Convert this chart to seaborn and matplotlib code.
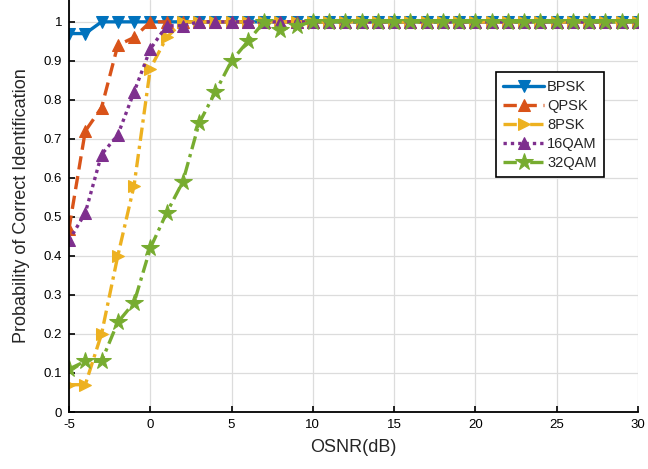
import numpy as np
import pandas as pd
import matplotlib
matplotlib.use("Agg")
import matplotlib.pyplot as plt
import seaborn as sns

# OSNR sweep (dB)
osnr = list(range(-5, 31))

# probability of correct identification
bpsk = [0.97, 0.97] + [1.0] * 34
qpsk = [0.47, 0.72, 0.78, 0.94, 0.96] + [1.0] * 31
psk8 = [0.07, 0.07, 0.20, 0.40, 0.58, 0.88, 0.96] + [1.0] * 29
qam16 = [0.44, 0.51, 0.66, 0.71, 0.82, 0.93, 0.99, 0.99] + [1.0] * 28
qam32 = [0.11, 0.13, 0.13, 0.23, 0.28, 0.42, 0.51, 0.59, 0.74, 0.82,
         0.90, 0.95, 1.0, 0.98, 0.99] + [1.0] * 21

labels = ["BPSK", "QPSK", "8PSK", "16QAM", "32QAM"]
values = [bpsk, qpsk, psk8, qam16, qam32]

# MATLAB default colour order
colors = ["#0072BD", "#D95319", "#EDB120", "#7E2F8E", "#77AC30"]
styles = ["-", (0, (4, 2)), (0, (4, 1.5, 1, 1.5)), (0, (1, 1.2)), (0, (4, 1.5, 1, 1.5))]
markers = ["v", "^", ">", "^", "*"]
msizes = [8, 9, 9, 9, 13]

sns.set_style("whitegrid")
plt.rcParams["font.family"] = ["Liberation Sans", "DejaVu Sans"]
plt.rcParams["axes.unicode_minus"] = False

fig = plt.figure(figsize=(6.48, 4.69), dpi=100)
ax = fig.add_axes([0.1065, 0.1215, 0.878, 0.8785])

for lab, val, c, ls, m, ms in zip(labels, values, colors, styles, markers, msizes):
    df = pd.DataFrame({"osnr": osnr, "p": val})
    sns.lineplot(data=df, x="osnr", y="p", ax=ax, color=c, linestyle=ls,
                 marker=m, markersize=ms, markeredgecolor=c, linewidth=2.4,
                 label=lab)

ax.set_xlim(-5, 30)
ax.set_ylim(0, 1.056)
ax.set_xticks(np.arange(-5, 31, 5))
ax.set_yticks(np.round(np.arange(0, 1.01, 0.1), 1))
ax.set_yticklabels(["0", "0.1", "0.2", "0.3", "0.4", "0.5", "0.6", "0.7", "0.8", "0.9", "1"])
ax.grid(True, color="#dcdcdc", linewidth=0.9)
ax.set_axisbelow(True)

for side in ["top", "right"]:
    ax.spines[side].set_visible(False)
for side in ["left", "bottom"]:
    ax.spines[side].set_color("black")
    ax.spines[side].set_linewidth(1.3)

ax.tick_params(direction="in", length=4, width=1.2, colors="black",
               labelsize=9.5, left=True, bottom=True, pad=5)

ax.set_xlabel("OSNR(dB)", fontsize=13, labelpad=6)
ax.set_ylabel("Probability of Correct Identification", fontsize=13, labelpad=10)

leg = ax.legend(loc="upper left", bbox_to_anchor=(0.738, 0.842), fontsize=10.5,
                frameon=True, fancybox=False, handlelength=2.8,
                labelspacing=0.35, borderpad=0.5, handletextpad=0.2)
leg.get_frame().set_edgecolor("black")
leg.get_frame().set_linewidth(1.2)
leg.get_frame().set_alpha(1)

plt.savefig("out.png", dpi=100)
plt.close()
